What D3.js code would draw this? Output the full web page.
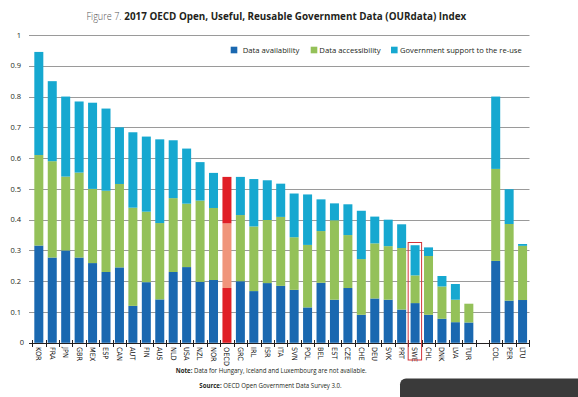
<!DOCTYPE html>
<html>
<head>
<meta charset="utf-8">
<script src="https://cdn.jsdelivr.net/npm/d3@7"></script>
<style>
  body { margin: 0; background: #fff; }
  svg { display: block; }
  text { font-family: "Open Sans", "DejaVu Sans", sans-serif; fill: #231f20; }
</style>
</head>
<body>
<div id="chart"></div>
<script>
// data
const categories = ['KOR','FRA','JPN','GBR','MEX','ESP','CAN','AUT','FIN','AUS','NLD','USA','NZL','NOR','OECD',
  'GRC','IRL','ISR','ITA','SVN','POL','BEL','EST','CZE','CHE','DEU','SVK','PRT','SWE','CHL','DNK','LVA','TUR',
  'COL','PER','LTU']
const availability = [0.316,0.277,0.300,0.277,0.259,0.230,0.245,0.120,0.197,0.141,0.230,0.246,0.198,0.204,0.178,
  0.200,0.168,0.194,0.185,0.172,0.115,0.195,0.140,0.178,0.091,0.144,0.140,0.108,0.129,0.091,0.078,0.067,0.066,
  0.266,0.137,0.139]
const accessibility = [0.294,0.313,0.240,0.276,0.241,0.264,0.271,0.319,0.229,0.248,0.240,0.206,0.264,0.234,0.210,
  0.215,0.210,0.205,0.224,0.171,0.203,0.168,0.258,0.172,0.181,0.179,0.174,0.200,0.090,0.191,0.105,0.073,0.061,
  0.299,0.249,0.176]
const reuse = [0.335,0.260,0.260,0.231,0.280,0.267,0.184,0.245,0.244,0.272,0.188,0.179,0.125,0.114,0.151,
  0.124,0.154,0.129,0.108,0.142,0.164,0.103,0.055,0.100,0.157,0.087,0.086,0.077,0.098,0.028,0.034,0.051,0.000,
  0.235,0.113,0.006]
const yTicks = [0, 0.1, 0.2, 0.3, 0.4, 0.5, 0.6, 0.7, 0.8, 0.9, 1]
const seriesNames = ['Data availability', 'Data accessibility', 'Government support to the re-use']
const colors = ['#1a68b0', '#94c159', '#16a8d0']
const oecdColors = ['#e01f26', '#f0957b', '#e01f26']
const gapAfter = 'TUR'
const highlight = 'SWE'

const width = 578
const height = 397

const svg = d3.select('#chart')
    .append('svg')
    .attr('width', width)
    .attr('height', height)

// slots: one empty slot between TUR and COL
const slots = []
categories.forEach(c => {
    slots.push(c)
    if (c === gapAfter) slots.push('gap')
})

const x = d3.scaleBand()
    .domain(slots)
    .range([32.1, 529.3])
    .padding(0)
const barWidth = x.bandwidth() * 0.67

const y = d3.scaleLinear()
    .domain([0, 1])
    .range([342.8, 35])

// gridlines
svg.append('g')
    .selectAll('line')
    .data(yTicks.slice(1))
    .enter()
    .append('line')
    .attr('x1', 29)
    .attr('x2', 529.5)
    .attr('y1', d => Math.round(y(d)) + 0.5)
    .attr('y2', d => Math.round(y(d)) + 0.5)
    .attr('stroke', '#9a9a9a')
    .attr('stroke-width', 1)

svg.append('g')
    .selectAll('text')
    .data(yTicks)
    .enter()
    .append('text')
    .attr('x', d => d === 0 ? 24 : 21)
    .attr('y', d => y(d))
    .attr('dy', '0.35em')
    .attr('text-anchor', 'end')
    .style('font-size', '7.5px')
    .text(d => d)

// stacked bars
const stacked = categories.map((c, i) => {
    const vals = [availability[i], accessibility[i], reuse[i]]
    let acc = 0
    return vals.map((v, k) => {
        const seg = { cat: c, k: k, y0: acc, y1: acc + v }
        acc += v
        return seg
    })
}).flat()

svg.append('g')
    .selectAll('rect')
    .data(stacked)
    .enter()
    .append('rect')
    .attr('x', d => x(d.cat) + (x.bandwidth() - barWidth) / 2)
    .attr('width', barWidth)
    .attr('y', d => y(d.y1))
    .attr('height', d => Math.max(0, y(d.y0) - y(d.y1)))
    .attr('fill', d => d.cat === 'OECD' ? oecdColors[d.k] : colors[d.k])

// x axis with ticks at slot boundaries
const axisY = 343
svg.append('line')
    .attr('x1', 29)
    .attr('x2', 529.5)
    .attr('y1', axisY + 0.5)
    .attr('y2', axisY + 0.5)
    .attr('stroke', '#231f20')

const bounds = slots.map(s => x(s)).concat([x(slots[slots.length - 1]) + x.bandwidth()])
svg.append('g')
    .selectAll('line')
    .data(bounds)
    .enter()
    .append('line')
    .attr('x1', d => Math.round(d) + 0.5)
    .attr('x2', d => Math.round(d) + 0.5)
    .attr('y1', axisY - 3)
    .attr('y2', axisY + 4)
    .attr('stroke', '#231f20')

svg.append('g')
    .selectAll('text')
    .data(categories)
    .enter()
    .append('text')
    .attr('transform', d => `translate(${x(d) + x.bandwidth() / 2 - 2.6}, ${axisY + 4}) rotate(90)`)
    .attr('text-anchor', 'start')
    .style('font-size', '7.3px')
    .style('fill', '#111')
    .style('font-family', '"DejaVu Sans Condensed", "Liberation Sans Narrow", sans-serif')
    .text(d => d)

// SWE highlight box
svg.append('rect')
    .attr('x', x(highlight) - 0.2)
    .attr('y', 242.5)
    .attr('width', x.bandwidth())
    .attr('height', 117.5)
    .attr('fill', 'none')
    .attr('stroke', '#d2353a')
    .attr('stroke-width', 1)

// title
const title = svg.append('text')
    .attr('x', 86.5)
    .attr('y', 20.3)
    .style('font-size', '10px')
title.append('tspan')
    .style('fill', '#555')
    .style('font-weight', 300)
    .attr('textLength', 35)
    .attr('lengthAdjust', 'spacingAndGlyphs')
    .text('Figure 7.')
title.append('tspan')
    .attr('x', 124.3)
    .style('font-weight', 'bold')
    .attr('textLength', 342)
    .attr('lengthAdjust', 'spacingAndGlyphs')
    .text('2017 OECD Open, Useful, Reusable Government Data (OURdata) Index')

// legend
const legendX = [230.7, 310.7, 391]
const legendTextX = [242.7, 319.3, 400]
const legendW = [56.6, 61.4, 121.7]
const legend = svg.append('g')
seriesNames.forEach((name, i) => {
    legend.append('rect')
        .attr('x', legendX[i])
        .attr('y', 46.7)
        .attr('width', 6.6)
        .attr('height', 6.6)
        .attr('fill', colors[i])
    legend.append('text')
        .attr('x', legendTextX[i])
        .attr('y', 53)
        .style('font-size', '8px')
        .attr('textLength', legendW[i])
        .attr('lengthAdjust', 'spacingAndGlyphs')
        .text(name)
})

// notes
const note = svg.append('text')
    .attr('x', 175.7)
    .attr('y', 373)
    .style('font-size', '6.3px')
    .attr('textLength', 191)
    .attr('lengthAdjust', 'spacingAndGlyphs')
note.append('tspan').style('font-weight', 'bold').text('Note: ')
note.append('tspan').text('Data for Hungary, Iceland and Luxembourg are not available.')

const source = svg.append('text')
    .attr('x', 199.3)
    .attr('y', 387.5)
    .style('font-size', '6.3px')
    .attr('textLength', 142.4)
    .attr('lengthAdjust', 'spacingAndGlyphs')
source.append('tspan').style('font-weight', 'bold').text('Source: ')
source.append('tspan').text('OECD Open Government Data Survey 3.0.')

// viewer toolbar overlay visible in the screenshot
svg.append('rect')
    .attr('x', 400)
    .attr('y', 378.5)
    .attr('width', 200)
    .attr('height', 40)
    .attr('rx', 6)
    .attr('fill', '#3a3a3a')
</script>
</body>
</html>
